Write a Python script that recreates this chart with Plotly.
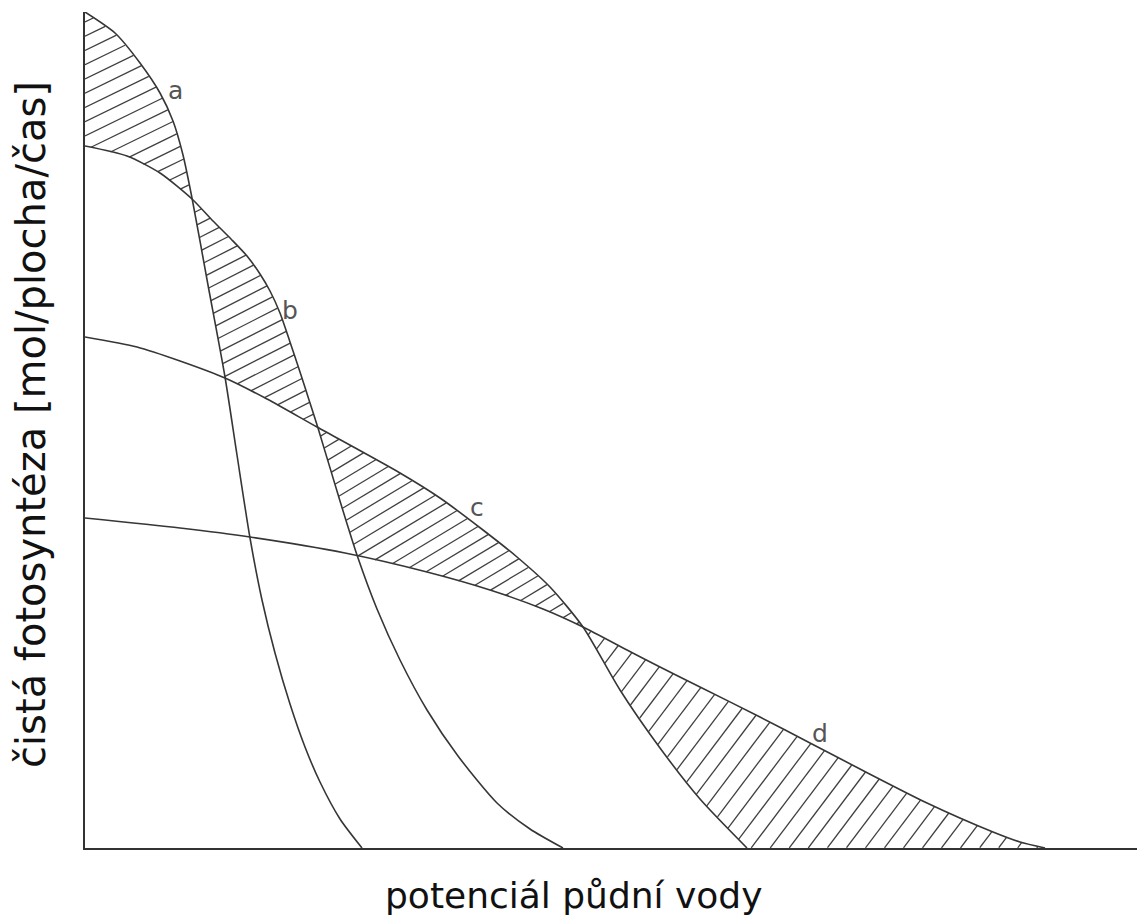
import numpy as np
import plotly.graph_objects as go

# ---- data (x: soil water potential, arbitrary units; y: net photosynthesis, arbitrary units)
a_x = [0, 30, 55, 75, 88, 98, 107, 123, 140, 152, 165, 177, 190, 205, 220, 235, 255, 277]
a_y = [836, 815, 785, 755, 727, 693, 650, 563, 471, 393, 310, 248, 195, 144, 101, 66, 29, 0]

b_x = [0, 42, 75, 107, 128, 146, 162, 175, 185, 195, 205, 215, 225, 233, 255, 272, 292, 315, 342, 373, 412, 445, 478]
b_y = [702, 692, 675, 649, 627, 609, 592, 574, 557, 535, 506, 476, 445, 420, 347, 293, 239, 188, 138, 92, 45, 19, 0]

c_x = [0, 52, 95, 140, 182, 232, 315, 355, 398, 432, 465, 498, 535, 575, 615, 662]
c_y = [511, 501, 487, 470, 449, 421, 375, 350, 318, 291, 261, 221, 158, 100, 49, 0]

d_x = [0, 95, 165, 260, 342, 405, 458, 498, 542, 575, 615, 675, 725, 775, 842, 908, 935, 960]
d_y = [330, 320, 311, 295, 276, 258, 239, 221, 198, 181, 161, 131, 105, 79, 45, 16, 6, 0]

labels = ["a", "b", "c", "d"]
label_x = [90, 205, 392, 735]
label_y = [758, 538, 341, 115]

X_MAX, Y_MAX = 1052, 836

curves = [(a_x, a_y), (b_x, b_y), (c_x, c_y), (d_x, d_y)]

# hatch style per segment where the curve is on top: (angle in degrees, perpendicular spacing)
hatch_style = [(26, 12.8), (27, 12.3), (31, 12.2), (53, 15.2)]

LINE_COL = "#363636"

fig = go.Figure()

# ---- hatching between the highest and second-highest curve
xs = np.arange(0, X_MAX + 0.01, 0.25)
Y = np.vstack([np.interp(xs, cx, cy, left=cy[0], right=0) for cx, cy in curves])
srt = np.sort(Y, axis=0)
upper = srt[-1]
lower = np.maximum(srt[-2], 0)
top = np.argmax(Y, axis=0)

hx, hy = [], []
for k, (ang, sp) in enumerate(hatch_style):
    seg = (top == k) & (upper - lower > 0.2) & (upper > 0)
    if not seg.any():
        continue
    m = np.tan(np.radians(ang))
    dc = sp / np.cos(np.radians(ang))
    cmin = np.min((lower - m * xs)[seg])
    cmax = np.max((upper - m * xs)[seg])
    c = np.ceil(cmin / dc) * dc
    while c <= cmax:
        yl = m * xs + c
        inside = seg & (yl >= lower) & (yl <= upper)
        if inside.any():
            d = np.diff(inside.astype(int))
            starts = list(np.where(d == 1)[0] + 1)
            ends = list(np.where(d == -1)[0])
            if inside[0]:
                starts = [0] + starts
            if inside[-1]:
                ends = ends + [len(xs) - 1]
            for s, e in zip(starts, ends):
                if xs[e] - xs[s] >= 0.5:
                    hx += [xs[s], xs[e], None]
                    hy += [m * xs[s] + c, m * xs[e] + c, None]
        c += dc

fig.add_trace(go.Scatter(x=hx, y=hy, mode="lines",
                         line=dict(color="#404040", width=1.3),
                         hoverinfo="skip", showlegend=False))

# ---- curves
for (cx, cy) in curves:
    fig.add_trace(go.Scatter(x=cx, y=cy, mode="lines",
                             line=dict(color=LINE_COL, width=1.6, shape="spline", smoothing=0.7),
                             showlegend=False, hoverinfo="skip"))

# ---- curve labels
for t, lx, ly in zip(labels, label_x, label_y):
    fig.add_annotation(x=lx, y=ly, text=t, showarrow=False,
                       font=dict(family="DejaVu Sans", size=25, color="#555555"))

# ---- axis titles
fig.add_annotation(xref="paper", yref="paper", x=(31 - 85) / X_MAX, y=(848 - 425) / Y_MAX,
                   xanchor="center", yanchor="middle",
                   text="čistá fotosyntéza [mol/plocha/čas]", textangle=-90,
                   showarrow=False,
                   font=dict(family="DejaVu Sans", size=40, color="#111111"))
fig.add_annotation(xref="paper", yref="paper", x=(574 - 85) / X_MAX, y=(848 - 895) / Y_MAX,
                   xanchor="center", yanchor="middle",
                   text="potenciál půdní vody", showarrow=False,
                   font=dict(family="DejaVu Sans", size=36, color="#111111"))

fig.update_xaxes(range=[0, X_MAX], showgrid=False, zeroline=False, showticklabels=False,
                 ticks="", showline=True, linecolor="#333333", linewidth=1.6)
fig.update_yaxes(range=[0, Y_MAX], showgrid=False, zeroline=False, showticklabels=False,
                 ticks="", showline=True, linecolor="#333333", linewidth=1.6)

fig.update_layout(width=1137, height=918,
                  margin=dict(l=85, r=0, t=12, b=70),
                  plot_bgcolor="white", paper_bgcolor="white")

fig.write_html("out.html")
